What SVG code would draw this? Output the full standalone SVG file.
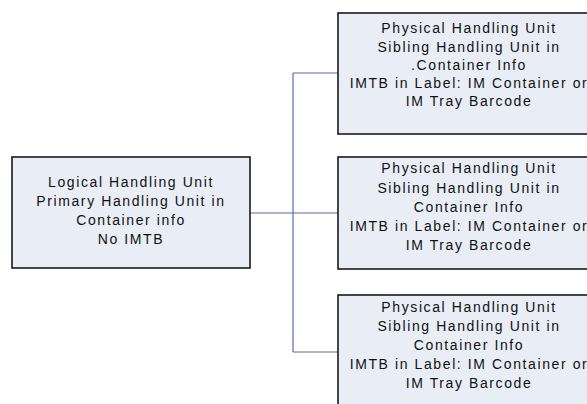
<svg xmlns="http://www.w3.org/2000/svg" width="587" height="404" viewBox="0 0 587 404">
<style>
.box{fill:#e9edf6;stroke:#1a1a1a;stroke-width:1.6}
.t{font-family:"Liberation Sans",Arial,sans-serif;font-size:14px;fill:#111;text-anchor:middle;letter-spacing:1.6px}
.c{fill:none;stroke:#5a68a6;stroke-width:1.2}
</style>
<rect width="587" height="404" fill="#ffffff"/>
<g id="connectors">
<path class="c" d="M250,213 H338"/>
<path class="c" d="M293,73 V352"/>
<path class="c" d="M293,73 H338"/>
<path class="c" d="M293,352 H338"/>
</g>
<g id="logical">
<rect class="box" x="12" y="157" width="238" height="111"/>
<text class="t"><tspan x="131" y="187">Logical Handling Unit</tspan><tspan x="131" y="206">Primary Handling Unit in</tspan><tspan x="131" y="225">Container info</tspan><tspan x="131" y="244">No IMTB</tspan></text>
</g>
<g id="physical1">
<rect class="box" x="338" y="13" width="262" height="121"/>
<text class="t"><tspan x="469" y="33">Physical Handling Unit</tspan><tspan x="469" y="52">Sibling Handling Unit in</tspan><tspan x="469" y="70">.Container Info</tspan><tspan x="469" y="88">IMTB in Label: IM Container or</tspan><tspan x="469" y="106">IM Tray Barcode</tspan></text>
</g>
<g id="physical2">
<rect class="box" x="338" y="157" width="262" height="112"/>
<text class="t"><tspan x="469" y="173">Physical Handling Unit</tspan><tspan x="469" y="193">Sibling Handling Unit in</tspan><tspan x="469" y="212">Container Info</tspan><tspan x="469" y="231">IMTB in Label: IM Container or</tspan><tspan x="469" y="250">IM Tray Barcode</tspan></text>
</g>
<g id="physical3">
<rect class="box" x="338" y="295" width="262" height="120"/>
<text class="t"><tspan x="469" y="312">Physical Handling Unit</tspan><tspan x="469" y="331">Sibling Handling Unit in</tspan><tspan x="469" y="350">Container Info</tspan><tspan x="469" y="369">IMTB in Label: IM Container or</tspan><tspan x="469" y="388">IM Tray Barcode</tspan></text>
</g>
</svg>
